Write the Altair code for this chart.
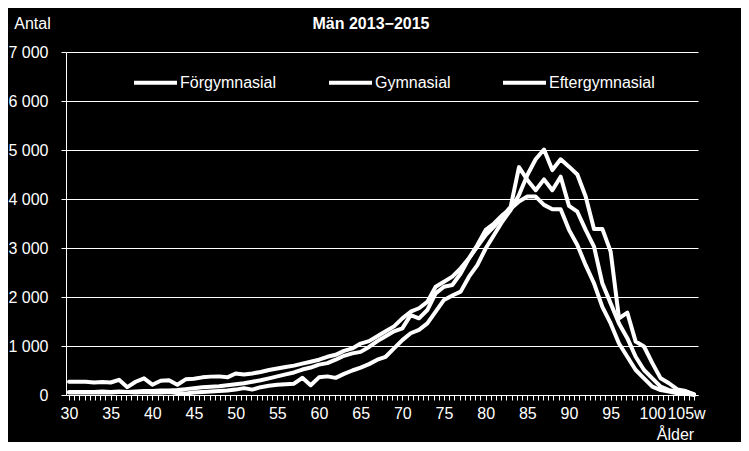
import altair as alt
import pandas as pd

years = list(range(30, 106))

forgymnasial = [50, 50, 50, 50, 50, 50, 60, 60, 50, 60,
                50, 50, 60, 40, 30, 50, 60, 70, 80, 90,
                110, 140, 110, 160, 190, 210, 220, 230, 350, 200,
                360, 380, 350, 430, 500, 560, 630, 720, 780, 950,
                1120, 1260, 1330, 1460, 1700, 1940, 2030, 2110, 2415, 2650,
                2990, 3265, 3540, 3775, 4080, 4490, 4810, 5010, 4590, 4810,
                4660, 4500, 4050, 3390, 3390, 2925, 1565, 1680, 1090, 990,
                650, 340, 240, 115, 80, 10]

gymnasial = [270, 270, 270, 255, 265, 255, 310, 160, 270, 340,
             210, 290, 300, 210, 320, 330, 360, 375, 380, 360,
             440, 420, 440, 470, 510, 540, 570, 600, 640, 680,
             720, 780, 820, 900, 950, 1050, 1100, 1200, 1300, 1400,
             1565, 1700, 1770, 1900, 2210, 2310, 2415, 2585, 2790, 3030,
             3265, 3435, 3640, 3840, 4650, 4390, 4180, 4400, 4180, 4455,
             3860, 3740, 3370, 3030, 2280, 1870, 1460, 1160, 780, 510,
             340, 170, 100, 70, 70, 15]

eftergymnasial = [60, 60, 60, 60, 70, 60, 70, 60, 70, 80,
                  80, 90, 90, 100, 120, 140, 160, 170, 180, 200,
                  220, 240, 270, 300, 340, 380, 420, 460, 520, 560,
                  620, 650, 720, 800, 850, 880, 980, 1100, 1200, 1300,
                  1360, 1630, 1565, 1735, 2075, 2210, 2245, 2480, 2790, 3060,
                  3370, 3500, 3670, 3800, 3950, 4050, 4050, 3880, 3790, 3790,
                  3370, 3060, 2650, 2280, 1800, 1460, 1050, 780, 510, 340,
                  170, 100, 70, 35, 35, 0]

series_names = ["Förgymnasial", "Gymnasial", "Eftergymnasial"]
y_ticks = [0, 1000, 2000, 3000, 4000, 5000, 6000, 7000]
x_tick_values = [30 + k * 0.625 for k in range(121)]

rows = []
for name, vals in zip(series_names, [forgymnasial, gymnasial, eftergymnasial]):
    for a, v in zip(years, vals):
        rows.append({"alder": a, "antal": v, "serie": name})
df = pd.DataFrame(rows)

FONT = "Liberation Sans"

chart = alt.Chart(df).mark_line(
    strokeWidth=4, strokeJoin="round", strokeCap="round"
).encode(
    x=alt.X(
        "alder:Q",
        scale=alt.Scale(domain=[29.64, 105.48], nice=False, zero=False),
        axis=alt.Axis(
            values=x_tick_values,
            labelExpr="datum.value % 5 == 0 ? (datum.value == 105 ? '105w' : format(datum.value, 'd')) : ''",
            labelOverlap=False,
            labelFlush=False,
            labelOffset=alt.condition(
                "datum.value == 105", alt.value(-8),
                alt.value(0)
            ),
            tickSize=5,
            labelPadding=5,
            grid=False,
            title="Ålder",
            titleAngle=0,
            titleX=609,
            titleY=44,
            titleAlign="center",
            titleBaseline="alphabetic",
        ),
    ),
    y=alt.Y(
        "antal:Q",
        scale=alt.Scale(domain=[0, 7000], nice=False),
        axis=alt.Axis(
            values=y_ticks,
            labelExpr="replace(format(datum.value, ','), ',', ' ')",
            tickSize=5,
            labelPadding=13,
            grid=True,
            gridColor="white",
            gridWidth=1,
            gridOpacity=1,
            title="Antal",
            titleAngle=0,
            titleX=-34,
            titleY=-24,
            titleAlign="center",
            titleBaseline="alphabetic",
        ),
    ),
    color=alt.Color(
        "serie:N",
        sort=series_names,
        scale=alt.Scale(domain=series_names, range=["white", "white", "white"]),
        legend=alt.Legend(
            orient="none",
            legendX=66,
            legendY=7,
            direction="horizontal",
            title=None,
            symbolType="stroke",
            symbolSize=1849,
            symbolStrokeWidth=4,
            labelFontSize=16,
            labelFont=FONT,
            labelColor="white",
            labelOffset=1,
            columnPadding=44,
            padding=0,
        ),
    ),
    detail="serie:N",
).properties(
    width=632,
    height=343,
    title=alt.TitleParams(
        "Män 2013−2015",
        anchor="middle",
        fontSize=16,
        fontWeight="bold",
        font=FONT,
        color="white",
        offset=-17,
        dx=-11,
    ),
    autosize=alt.AutoSizeParams(type="none"),
    padding={"left": 58, "top": 44, "right": 43, "bottom": 47},
).configure(
    background="black"
).configure_view(
    strokeWidth=0
).configure_axis(
    labelColor="white",
    labelFont=FONT,
    labelFontSize=16,
    tickColor="white",
    tickWidth=1,
    domainColor="white",
    domainWidth=1,
    titleColor="white",
    titleFont=FONT,
    titleFontSize=16,
    titleFontWeight="normal",
)

chart.save("out.html", embed_options={"renderer": "svg", "actions": False})
